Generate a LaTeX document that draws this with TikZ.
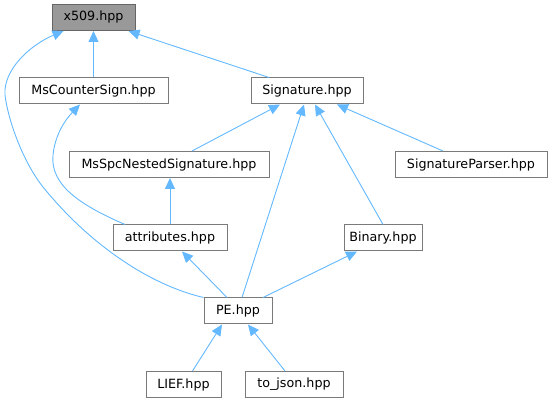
\documentclass[tikz,border=0pt]{standalone}
\usepackage{fontspec}
\setmainfont{DejaVu Sans}
\usetikzlibrary{arrows.meta}
\definecolor{edgeblue}{HTML}{63B8FF}
\definecolor{boxborder}{HTML}{7A7A7A}
\definecolor{mainfill}{HTML}{999999}
\definecolor{mainborder}{HTML}{666666}
\begin{document}
\begin{tikzpicture}[x=1pt,y=-1pt,
  box/.style={draw=boxborder, fill=white, line width=1pt, rectangle, inner sep=0pt,
    minimum height=26pt, font=\fontsize{12.7}{15}\selectfont},
  mainbox/.style={box, draw=mainborder, fill=mainfill},
  dep/.style={draw=edgeblue, line width=0.9pt,
    -{Triangle[length=11pt,width=10pt,fill=edgeblue]}}]
\useasboundingbox (0,0) rectangle (552,403);

\node[mainbox, minimum width=83pt] (x509) at (93.5,17.5) {x509.hpp};
\node[box, minimum width=149pt] (msc) at (93.5,91) {MsCounterSign.hpp};
\node[box, minimum width=112pt] (sig) at (307,91) {Signature.hpp};
\node[box, minimum width=200pt] (msn) at (169,164.5) {MsSpcNestedSignature.hpp};
\node[box, minimum width=152pt] (sp) at (471,164.5) {SignatureParser.hpp};
\node[box, minimum width=114pt] (attr) at (170,238) {attributes.hpp};
\node[box, minimum width=78pt] (bin) at (383,238) {Binary.hpp};
\node[box, minimum width=68pt] (pe) at (238,311) {PE.hpp};
\node[box, minimum width=75pt] (lief) at (183.5,384.5) {LIEF.hpp};
\node[box, minimum width=98pt] (json) at (294,384.5) {to\_json.hpp};

\draw[dep] (msc.north) -- (x509.south);
\draw[dep] ([xshift=-38pt]sig.north) -- ([xshift=-7pt]x509.south east);
\draw[dep] (pe.north west) .. controls (150,285) and (90,245) .. (43,187)
  .. controls (23,162) and (8,120) .. (5,95)
  .. controls (3,70) and (30,45) .. ([xshift=-30pt]x509.south);
\draw[dep] ([xshift=23pt]msn.north) -- ([xshift=-27pt]sig.south);
\draw[dep] ([xshift=4pt]pe.north) -- ([xshift=-3pt]sig.south);
\draw[dep] (bin.north) -- ([xshift=8pt]sig.south);
\draw[dep] ([xshift=-28pt]sp.north) -- ([xshift=30pt]sig.south);
\draw[dep] (attr.north) -- (attr.north |- msn.south);
\draw[dep] ([xshift=-45pt]attr.north) .. controls (80,205) and (50,185) .. (53,155)
  .. controls (55,135) and (65,120) .. ([xshift=-13.5pt]msc.south);
\draw[dep] ([xshift=-11pt]pe.north) -- ([xshift=12pt]attr.south);
\draw[dep] ([xshift=25pt]pe.north) -- ([xshift=-26pt]bin.south);
\draw[dep] ([xshift=9pt]lief.north) -- ([xshift=-16pt]pe.south);
\draw[dep] ([xshift=-9pt]json.north) -- ([xshift=10pt]pe.south);
\end{tikzpicture}
\end{document}
